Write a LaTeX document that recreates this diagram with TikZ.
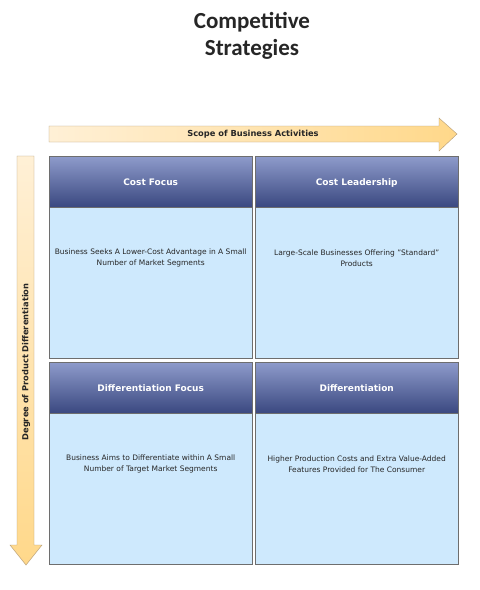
\documentclass[tikz,border=0pt]{standalone}
\usepackage{fontspec}
\setmainfont{DejaVu Sans}
\newfontfamily\titlefont{Carlito}
\usepackage{xcolor}
\usetikzlibrary{calc,positioning}
\definecolor{hdrTop}{HTML}{8E9BCB}
\definecolor{hdrBot}{HTML}{3A4880}
\definecolor{cellBlue}{HTML}{CEE9FD}
\definecolor{cellLine}{HTML}{6E6E6E}
\definecolor{arrLight}{HTML}{FFF0D6}
\definecolor{arrDark}{HTML}{FFD88A}
\definecolor{arrLine}{HTML}{B39B76}
\tikzset{
	header/.style={draw=cellLine, top color=hdrTop, bottom color=hdrBot, text=white,
		font=\fontsize{9}{11}\selectfont\bfseries, minimum width=203pt, minimum height=51pt,
		text height=6.6pt, text depth=0pt, inner sep=0pt, anchor=north west},
	cellbody/.style={draw=cellLine, fill=cellBlue, minimum width=203pt, minimum height=151pt,
		inner sep=0pt, anchor=north west},
	celltext/.style={font=\fontsize{7.5}{11}\selectfont, align=center, text=black!85},
	arrowlabel/.style={font=\fontsize{8.3}{10}\selectfont\bfseries, text=black!85}
}
\begin{document}
\begin{tikzpicture}[x=1pt,y=-1pt]
	\useasboundingbox (0,0) rectangle (480,590);
	\fill[white] (0,0) rectangle (480,590);

	% title
	\node[font=\titlefont\fontsize{23}{27}\selectfont\bfseries, text=black!85, align=center] (title) at (252,35.5) {Competitive\\Strategies};

	% horizontal arrow
	\shade[draw=arrLine, left color=arrLight, right color=arrDark]
		(49,126) -- (439,126) -- (439,118) -- (457,134) -- (439,151) -- (439,142) -- (49,142) -- cycle;
	\node[arrowlabel] (scope) at (253,134) {Scope of Business Activities};

	% vertical arrow
	\shade[draw=arrLine, top color=arrLight, bottom color=arrDark]
		(17,156) -- (34,156) -- (34,545) -- (42,545) -- (26,565) -- (10,545) -- (17,545) -- cycle;
	\node[arrowlabel, rotate=90] (degree) at (26,362) {Degree of Product Differentiation};

	% cells
	\node[cellbody] (bodyA) at (49,207) {};
	\node[cellbody] (bodyB) at (255,207) {};
	\node[cellbody] (bodyC) at (49,413) {};
	\node[cellbody] (bodyD) at (255,413) {};

	\node[header] (hdrA) at (49,156) {Cost Focus};
	\node[header] (hdrB) at (255,156) {Cost Leadership};
	\node[header] (hdrC) at (49,362) {Differentiation Focus};
	\node[header] (hdrD) at (255,362) {Differentiation};

	\node[celltext, below=51pt of hdrA.south, anchor=center] (txtA) {Business Seeks A Lower-Cost Advantage in A Small\\Number of Market Segments};
	\node[celltext, below=51pt of hdrB.south, anchor=center] (txtB) {Large-Scale Businesses Offering "Standard"\\Products};
	\node[celltext, below=51pt of hdrC.south, anchor=center] (txtC) {Business Aims to Differentiate within A Small\\Number of Target Market Segments};
	\node[celltext, below=51pt of hdrD.south, anchor=center] (txtD) {Higher Production Costs and Extra Value-Added\\Features Provided for The Consumer};
\end{tikzpicture}
\end{document}
